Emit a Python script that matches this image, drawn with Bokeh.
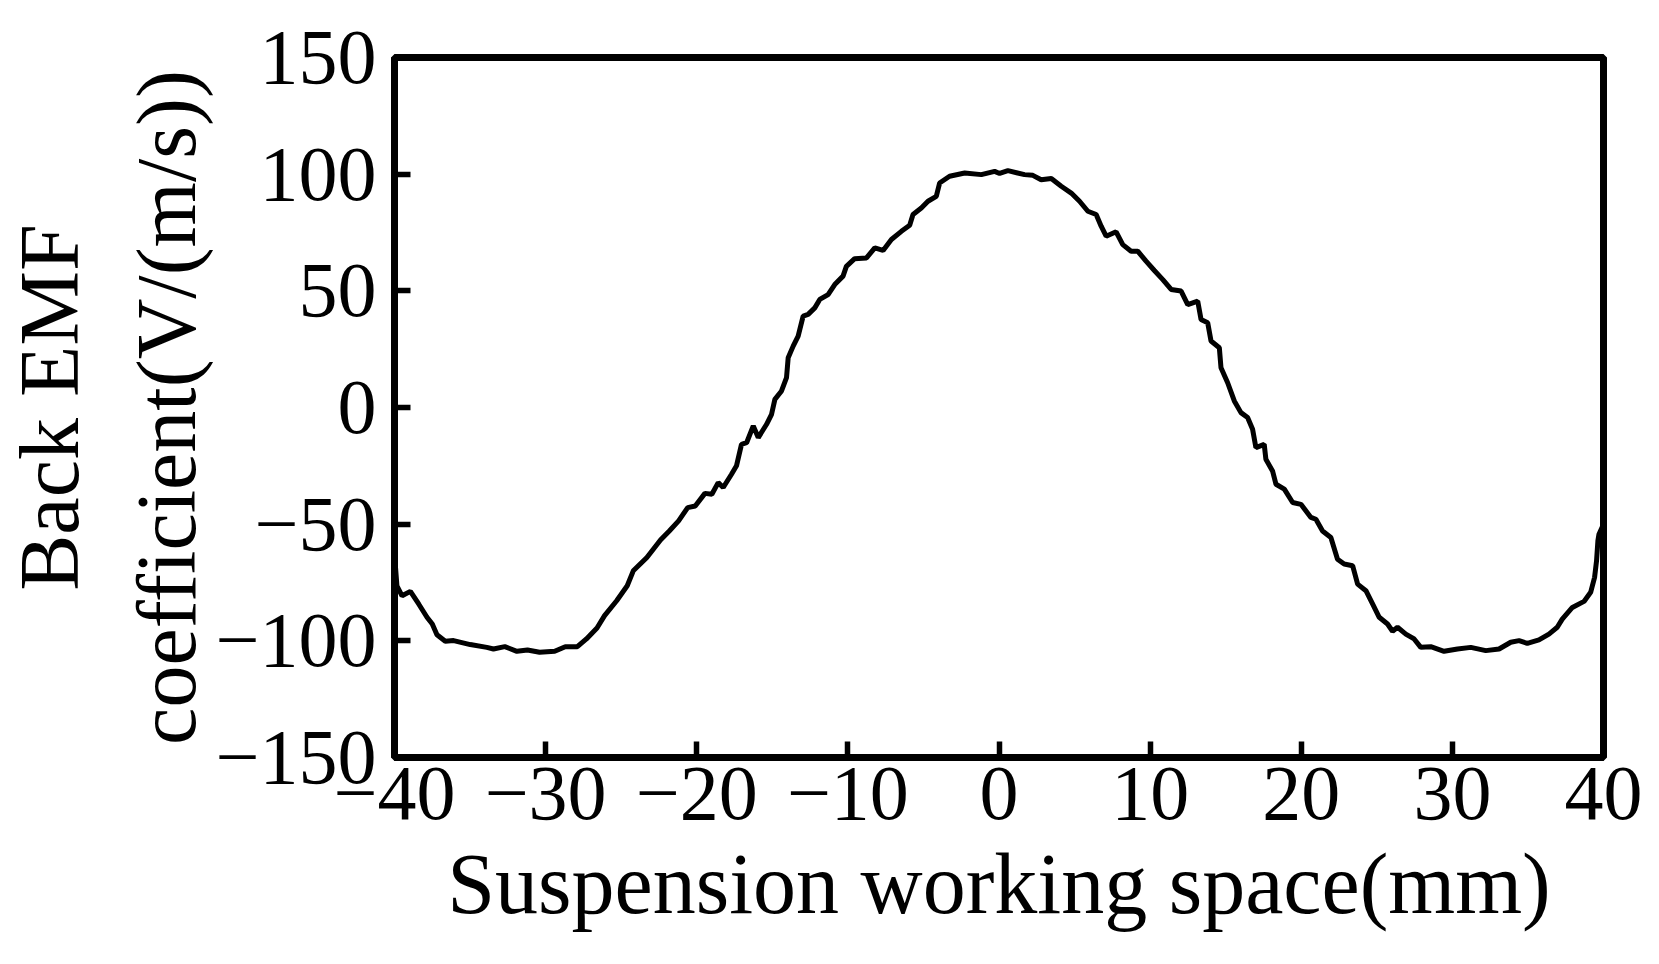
from bokeh.plotting import figure
from bokeh.models import Range1d, FixedTicker
from bokeh.embed import file_html
from bokeh.resources import INLINE

# Suspension working space (mm)
x_mm = [-40.0, -39.95, -39.84, -39.5, -38.95, -38.4, -37.85, -37.5, -37.19, -36.64,
        -36.09, -34.99, -33.89, -33.45, -32.7, -31.9, -31.2, -30.4, -29.4, -28.7,
        -27.9, -27.3, -26.6, -26.1, -25.3, -24.6, -24.2, -23.3, -22.4, -21.8,
        -21.2, -20.6, -20.1, -19.46, -19.0, -18.58, -18.25, -17.7, -17.37, -17.04,
        -16.7, -16.26, -15.93, -15.38, -15.05, -14.83, -14.39, -14.06, -13.95, -13.62,
        -13.29, -12.96, -12.63, -12.19, -11.86, -11.31, -10.87, -10.32, -10.1, -9.55,
        -8.77, -8.22, -7.67, -7.12, -6.46, -5.91, -5.69, -5.14, -4.7, -4.15,
        -3.93, -3.27, -2.27, -1.17, -0.29, 0.04, 0.59, 1.69, 2.24, 2.79,
        3.46, 4.12, 4.78, 5.33, 5.88, 6.43, 6.76, 7.09, 7.75, 8.19,
        8.74, 9.18, 9.73, 10.28, 10.84, 11.39, 12.05, 12.49, 13.15, 13.37,
        13.81, 14.03, 14.58, 14.69, 15.13, 15.57, 16.01, 16.45, 16.78, 17.0,
        17.55, 17.66, 18.1, 18.33, 18.88, 19.43, 19.98, 20.64, 20.97, 21.41,
        21.96, 22.4, 22.84, 23.4, 23.73, 24.28, 24.72, 25.16, 25.71, 26.04,
        26.37, 26.92, 27.47, 27.91, 28.57, 29.45, 30.34, 31.22, 32.21, 33.09,
        33.86, 34.41, 34.96, 35.73, 36.39, 36.94, 37.27, 37.94, 38.71, 39.15,
        39.41, 39.54, 39.63, 39.7, 40.0]

# Back EMF coefficient (V/(m/s))
emf = [-62.0, -67.0, -76.4, -80.7, -78.8, -84.2, -89.9, -92.8, -97.4, -100.2,
       -99.9, -101.6, -102.8, -103.5, -102.5, -104.5, -103.9, -104.9, -104.5, -102.5,
       -102.5, -99.2, -94.5, -89.2, -82.8, -76.4, -70.0, -64.3, -56.8, -52.8,
       -48.6, -42.9, -42.2, -36.8, -37.2, -32.2, -34.3, -28.6, -25.0, -15.8,
       -15.1, -7.9, -12.9, -7.2, -2.9, 3.5, 7.1, 12.8, 21.3, 26.3,
       30.6, 39.2, 39.9, 42.7, 46.3, 48.4, 52.7, 56.3, 60.5, 63.8,
       64.1, 68.4, 67.3, 72.0, 75.5, 78.1, 82.7, 85.5, 88.4, 90.5,
       96.2, 99.1, 100.5, 99.8, 101.2, 100.3, 101.5, 99.8, 99.5, 97.6,
       98.1, 94.8, 91.9, 88.4, 84.1, 82.7, 77.7, 73.4, 75.3, 69.8,
       67.0, 67.0, 62.7, 58.7, 54.8, 50.6, 49.9, 44.1, 45.6, 37.7,
       36.3, 28.5, 25.6, 17.0, 10.6, 2.8, -2.2, -4.3, -9.3, -17.2,
       -15.8, -22.2, -27.2, -32.9, -35.0, -40.7, -41.5, -47.1, -47.9, -52.9,
       -55.7, -65.0, -67.1, -67.8, -75.7, -78.5, -84.2, -89.9, -92.8, -95.9,
       -94.2, -97.1, -99.2, -102.8, -102.5, -104.5, -103.5, -102.8, -104.2, -103.5,
       -100.6, -99.9, -101.1, -99.6, -97.1, -94.2, -90.7, -85.7, -83.1, -79.2,
       -72.8, -65.7, -57.1, -54.3, -50.0]

x_ticks = [-40, -30, -20, -10, 0, 10, 20, 30, 40]
x_tick_labels = ["\u221240", "\u221230", "\u221220", "\u221210", "0", "10", "20", "30", "40"]
y_ticks = [-150, -100, -50, 0, 50, 100, 150]
y_tick_labels = ["\u2212150", "\u2212100", "\u221250", "0", "50", "100", "150"]

x_label = "Suspension working space(mm)"
y_label = "Back EMF\ncoefficient(V/(m/s))"

p = figure(width=1650, height=960, output_backend="svg", toolbar_location=None,
           x_range=Range1d(-40, 40), y_range=Range1d(-150, 150),
           min_border_left=392, min_border_right=47, min_border_top=57,
           min_border_bottom=203)
p.background_fill_color = "white"
p.border_fill_color = "white"

p.line(x_mm, emf, line_color="black", line_width=5)

p.grid.visible = False
p.outline_line_color = "black"
p.outline_line_width = 7
p.outline_line_alpha = 1.0

p.xaxis.ticker = FixedTicker(ticks=x_ticks)
p.yaxis.ticker = FixedTicker(ticks=y_ticks)
p.xaxis.major_label_overrides = {t: l for t, l in zip(x_ticks, x_tick_labels)}
p.yaxis.major_label_overrides = {t: l for t, l in zip(y_ticks, y_tick_labels)}
p.xaxis.axis_label = x_label
p.yaxis.axis_label = y_label

for ax in (p.xaxis[0], p.yaxis[0]):
    ax.major_tick_in = 16
    ax.major_tick_out = 0
    ax.major_tick_line_width = 5.5
    ax.major_tick_line_color = "black"
    ax.minor_tick_line_color = None
    ax.axis_line_width = 7
    ax.axis_line_color = "black"
    ax.major_label_text_font = "Liberation Serif"
    ax.major_label_text_font_size = "78px"
    ax.major_label_text_color = "black"
    ax.axis_label_text_font = "Liberation Serif"
    ax.axis_label_text_font_style = "normal"
    ax.axis_label_text_color = "black"

p.xaxis.axis_label_text_font_size = "86px"
p.yaxis.axis_label_text_font_size = "84px"
p.xaxis.major_label_standoff = 10
p.xaxis.axis_label_standoff = 14
p.yaxis.major_label_standoff = 18
p.yaxis.axis_label_standoff = 0
p.yaxis.axis_label_text_line_height = 1.25

open("out.html", "w").write(file_html(p, INLINE))
